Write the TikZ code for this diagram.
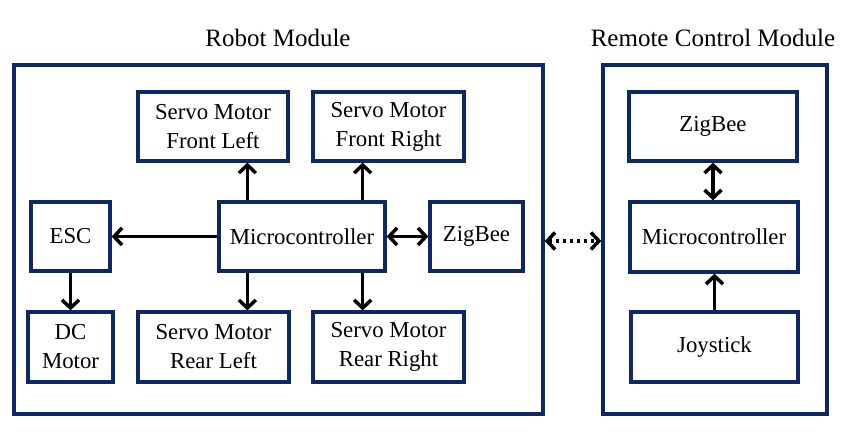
\documentclass[tikz,border=0pt]{standalone}
\usepackage{fontspec}
\setmainfont{Liberation Serif}
\usetikzlibrary{arrows.meta,calc}
\definecolor{navy}{RGB}{14,40,102}
\begin{document}
\begin{tikzpicture}[x=1pt,y=-1pt,
  blk/.style={draw=navy,line width=3.3pt,rectangle,align=center,inner sep=0pt,
    font=\fontsize{22.8}{29}\selectfont},
  grp/.style={draw=navy,line width=3.3pt,rectangle,inner sep=0pt},
  arr/.style={line width=3.5pt,-{Straight Barb[length=8pt,width=17pt]}},
  darr/.style={line width=3.5pt,{Straight Barb[length=8pt,width=17pt]}-{Straight Barb[length=8pt,width=17pt]}},
  ttl/.style={font=\fontsize{25}{30}\selectfont}]
\useasboundingbox (0,0) rectangle (842,431);
% groups
\node[grp,minimum width=529pt,minimum height=349pt] (robot) at (278.5,239.5) {};
\node[grp,minimum width=224pt,minimum height=349pt] (remote) at (715,239.5) {};
\node[ttl] (rt) at (278,38) {Robot Module};
\node[ttl] (ct) at (713,38) {Remote Control Module};
% robot blocks
\node[blk,minimum width=150pt,minimum height=69pt] (fl) at (213,126.5) {Servo Motor\\Front Left};
\node[blk,minimum width=151pt,minimum height=69pt] (fr) at (388.5,126.5) {Servo Motor\\Front Right};
\node[blk,minimum width=79pt,minimum height=69pt] (esc) at (70.5,236.5) {ESC};
\node[blk,minimum width=166pt,minimum height=69pt] (mc) at (302,236.5) {Microcontroller};
\node[blk,minimum width=93pt,minimum height=69pt] (zb) at (476.5,236.5) {ZigBee};
\node[blk,minimum width=85pt,minimum height=70pt] (dc) at (70.5,347) {DC\\Motor};
\node[blk,minimum width=151pt,minimum height=70pt] (rl) at (213.5,347) {Servo Motor\\Rear Left};
\node[blk,minimum width=151pt,minimum height=70pt] (rr) at (388.5,347) {Servo Motor\\Rear Right};
% remote blocks
\node[blk,minimum width=168pt,minimum height=69pt] (rz) at (713,126.5) {ZigBee};
\node[blk,minimum width=168pt,minimum height=70pt] (rm) at (714,237) {Microcontroller};
\node[blk,minimum width=167pt,minimum height=70pt] (joy) at (714.5,347) {Joystick};
% connectors
\coordinate (a1) at ([xshift=30pt]mc.north west);
\draw[arr] (a1) -- (a1 |- fl.south);
\coordinate (a2) at ([xshift=-24pt]mc.north east);
\draw[arr] (a2) -- (a2 |- fr.south);
\coordinate (a3) at ([xshift=30pt]mc.south west);
\draw[arr] (a3) -- (a3 |- rl.north);
\coordinate (a4) at ([xshift=-24pt]mc.south east);
\draw[arr] (a4) -- (a4 |- rr.north);
\draw[arr] (mc.west) -- (esc.east);
\draw[darr] (mc.east) -- (zb.west);
\draw[arr] (esc.south) -- (esc.south |- dc.north);
\coordinate (b1) at (rz.south);
\draw[darr] (b1) -- (b1 |- rm.north);
\coordinate (b2) at (joy.north);
\draw[arr] (b2) -- (b2 |- rm.south);
\coordinate (d1) at ([yshift=-1.5pt]robot.east);
\draw[darr,dash pattern=on 3pt off 4pt] (d1) -- (d1 -| remote.west);
\end{tikzpicture}
\end{document}
